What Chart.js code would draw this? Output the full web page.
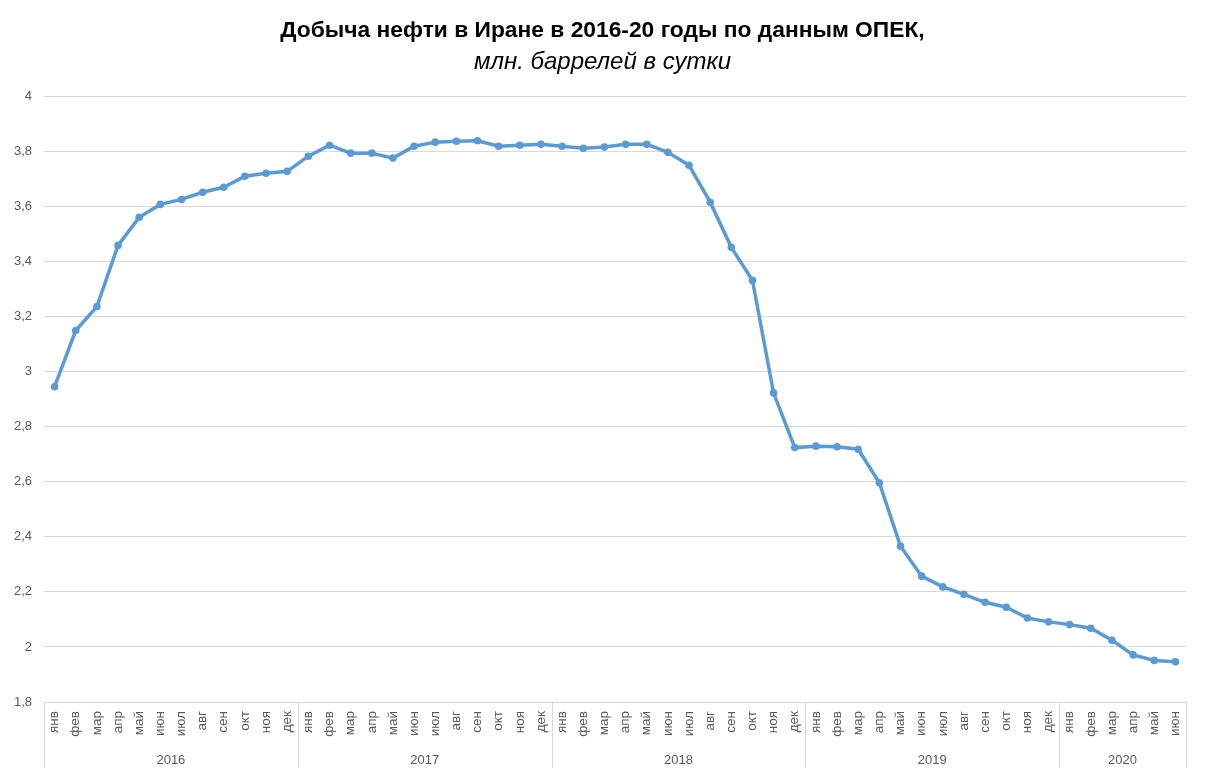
<!DOCTYPE html>
<html>
<head>
<meta charset="utf-8">
<script src="https://cdn.jsdelivr.net/npm/chart.js@4.4.1/dist/chart.umd.min.js"></script>
<style>
html,body{margin:0;padding:0;background:#fff;}
#wrap{width:1205px;height:780px;position:relative;}
</style>
</head>
<body>
<div id="wrap"><canvas id="c" width="1205" height="780"></canvas></div>
<script>
const monthNames = ['янв','фев','мар','апр','май','июн','июл','авг','сен','окт','ноя','дек'];
const years = ['2016','2017','2018','2019','2020'];
const yearMonthCounts = [12, 12, 12, 12, 6];
const yTicks = [1.8, 2.0, 2.2, 2.4, 2.6, 2.8, 3.0, 3.2, 3.4, 3.6, 3.8, 4.0];

const production2016 = [2.945, 3.149, 3.236, 3.458, 3.560, 3.607, 3.625, 3.651, 3.669, 3.709, 3.720, 3.727];
const production2017 = [3.782, 3.822, 3.793, 3.793, 3.775, 3.818, 3.833, 3.836, 3.838, 3.818, 3.822, 3.825];
const production2018 = [3.818, 3.811, 3.815, 3.825, 3.825, 3.796, 3.749, 3.615, 3.451, 3.331, 2.922, 2.724];
const production2019 = [2.729, 2.727, 2.718, 2.596, 2.366, 2.257, 2.218, 2.191, 2.162, 2.144, 2.105, 2.091];
const production2020 = [2.081, 2.068, 2.024, 1.971, 1.951, 1.946];

const labels = [];
yearMonthCounts.forEach(n => { for (let i = 0; i < n; i++) labels.push(monthNames[i]); });
const values = [].concat(production2016, production2017, production2018, production2019, production2020);

const GRID = '#d9d9d9';
const TXT = '#595959';
const FONT = "'Liberation Sans', Arial, sans-serif";

const yearGroupPlugin = {
  id: 'yearGroups',
  afterDraw(chart) {
    const x = chart.scales.x;
    const ctx = chart.ctx;
    const half = (x.getPixelForValue(1) - x.getPixelForValue(0)) / 2;
    const top = x.top, bottom = x.bottom;
    ctx.save();
    ctx.strokeStyle = GRID;
    ctx.lineWidth = 1;
    let start = 0;
    const seps = [];
    yearMonthCounts.forEach((n, gi) => {
      const x0 = x.getPixelForValue(start) - half;
      const x1 = x.getPixelForValue(start + n - 1) + half;
      seps.push(x0);
      if (gi === yearMonthCounts.length - 1) seps.push(x1);
      ctx.fillStyle = TXT;
      ctx.font = "13px " + FONT;
      ctx.textAlign = 'center';
      ctx.textBaseline = 'middle';
      ctx.fillText(years[gi], (x0 + x1) / 2, bottom - 8);
      start += n;
    });
    seps.forEach(px => {
      const p = Math.round(px) + 0.5;
      ctx.beginPath();
      ctx.moveTo(p, top);
      ctx.lineTo(p, bottom);
      ctx.stroke();
    });
    ctx.restore();
  }
};

new Chart(document.getElementById('c'), {
  type: 'line',
  data: {
    labels: labels,
    datasets: [{
      data: values,
      borderColor: '#5b9bd5',
      backgroundColor: '#5b9bd5',
      borderWidth: 3.5,
      pointRadius: 3.8,
      pointBorderWidth: 0,
      pointBackgroundColor: '#5b9bd5',
      tension: 0,
      fill: false
    }]
  },
  options: {
    responsive: false,
    animation: false,
    devicePixelRatio: 1,
    layout: { padding: { left: 0, right: 0, top: 0, bottom: 12 } },
    plugins: {
      legend: { display: false },
      tooltip: { enabled: false },
      title: {
        display: true,
        text: 'Добыча нефти в Иране в 2016-20 годы по данным ОПЕК,',
        color: '#000',
        font: { family: FONT, size: 22.8, weight: 'bold' },
        padding: { top: 17, bottom: 4 }
      },
      subtitle: {
        display: true,
        text: 'млн. баррелей в сутки',
        color: '#000',
        font: { family: FONT, size: 24, style: 'italic' },
        padding: { top: 0, bottom: 19 }
      }
    },
    scales: {
      x: {
        type: 'category',
        offset: true,
        grid: { display: false, drawTicks: false },
        border: { display: false },
        ticks: {
          color: TXT,
          font: { family: FONT, size: 13.5 },
          minRotation: 90,
          maxRotation: 90,
          autoSkip: false,
          padding: 9
        },
        afterFit(scale) { scale.height = 66; }
      },
      y: {
        min: yTicks[0],
        max: yTicks[yTicks.length - 1],
        afterBuildTicks(scale) { scale.ticks = yTicks.map(v => ({ value: v })); },
        grid: { color: GRID, drawTicks: false, lineWidth: 1 },
        border: { display: false },
        ticks: {
          color: TXT,
          font: { family: FONT, size: 13 },
          padding: 12,
          callback: v => Number(v.toFixed(1)).toString().replace('.', ',')
        },
        afterFit(scale) { scale.width = 44; }
      },
      yRight: {
        position: 'right',
        display: true,
        grid: { display: false, drawTicks: false },
        border: { display: false },
        ticks: { display: false },
        afterFit(scale) { scale.width = 19; }
      }
    }
  },
  plugins: [yearGroupPlugin]
});
</script>
</body>
</html>
